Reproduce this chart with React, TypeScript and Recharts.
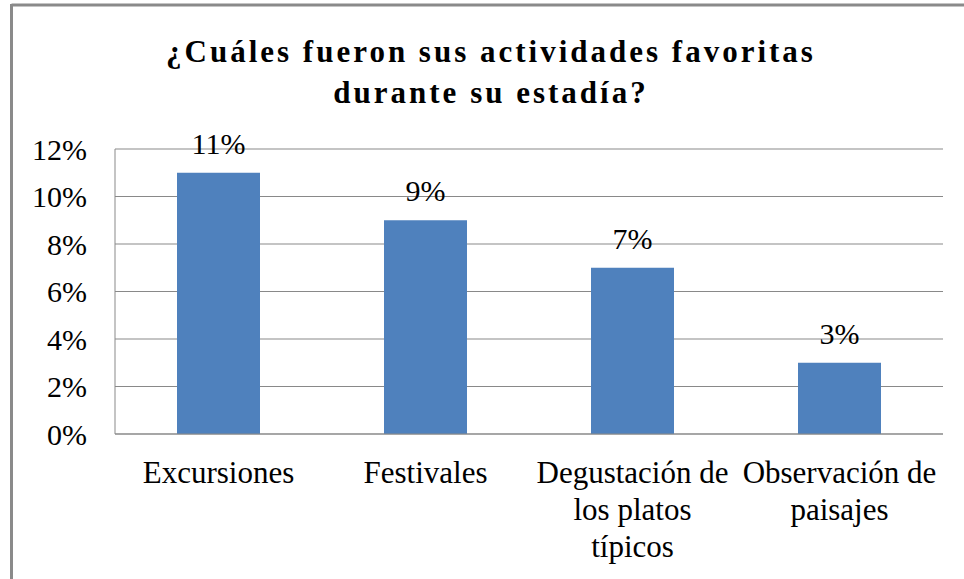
import React from "react";
import { BarChart, Bar, XAxis, YAxis, CartesianGrid, LabelList } from "recharts";

const categories = ["Excursiones", "Festivales", "Degustación de los platos típicos", "Observación de paisajes"];
const values = [11, 9, 7, 3];
const yTicks = [0, 2, 4, 6, 8, 10, 12];
const titleLines = ["¿Cuáles fueron sus actividades favoritas", "durante su estadía?"];

const data = categories.map((c, i) => ({ name: c, value: values[i] }));

const FONT = '"Liberation Serif", "Times New Roman", Tinos, "DejaVu Serif", "Noto Serif", serif';

const wrapLines = (text: string, maxW: number) => {
  const canvas = document.createElement("canvas");
  const ctx = canvas.getContext("2d")!;
  ctx.font = `31px ${FONT}`;
  const words = text.split(" ");
  const lines: string[] = [];
  let cur = "";
  for (const w of words) {
    const t = cur ? cur + " " + w : w;
    if (ctx.measureText(t).width > maxW && cur) {
      lines.push(cur);
      cur = w;
    } else cur = t;
  }
  if (cur) lines.push(cur);
  return lines;
};

const XTick = (props: any) => {
  const { x, y, payload } = props;
  const lines = wrapLines(String(payload.value), 205);
  return (
    <text x={x} y={y} textAnchor="middle" style={{ fontFamily: FONT, fontSize: 31 }} fill="#000">
      {lines.map((l, i) => (
        <tspan key={i} x={x} y={y + 49 + i * 37}>
          {l}
        </tspan>
      ))}
    </text>
  );
};

export default function App() {
  return (
    <div style={{ position: "absolute", left: 0, top: 0, width: 964, height: 579, background: "#fff" }}>
      <svg width={964} height={579} style={{ position: "absolute", left: 0, top: 0 }}>
        <line x1={11.5} y1={5} x2={964} y2={5} stroke="#8a8a8a" strokeWidth={3} />
        <line x1={11.5} y1={4} x2={11.5} y2={579} stroke="#8a8a8a" strokeWidth={3} />
        {titleLines.map((t, i) => (
          <text
            key={i}
            x={491}
            y={62 + i * 41}
            textAnchor="middle"
            style={{ fontFamily: FONT, fontWeight: "bold", fontSize: 31, letterSpacing: 3 }}
            fill="#000"
          >
            {t}
          </text>
        ))}
      </svg>
      <div style={{ position: "absolute", left: 0, top: 0 }}>
        <BarChart width={964} height={579} data={data} margin={{ top: 149, right: 21, bottom: 0, left: 0 }}>
          <CartesianGrid vertical={false} stroke="#898989" strokeWidth={1} />
          <XAxis
            dataKey="name"
            height={145}
            interval={0}
            tickLine={false}
            tickSize={0}
            tickMargin={0}
            axisLine={{ stroke: "#898989" }}
            tick={<XTick />}
          />
          <YAxis
            width={115}
            domain={[0, 12]}
            ticks={yTicks}
            tickFormatter={(v: number) => `${v}%`}
            tickLine={false}
            tickSize={0}
            tickMargin={28}
            axisLine={{ stroke: "#898989" }}
            tick={{ style: { fontFamily: FONT, fontSize: 30 }, fill: "#000" }}
          />
          <Bar dataKey="value" fill="#4F81BD" barSize={83} isAnimationActive={false}>
            <LabelList
              dataKey="value"
              position="top"
              offset={19}
              formatter={(v: any) => `${v}%`}
              style={{ fontFamily: FONT, fontSize: 30, fill: "#000" }}
            />
          </Bar>
        </BarChart>
      </div>
    </div>
  );
}
